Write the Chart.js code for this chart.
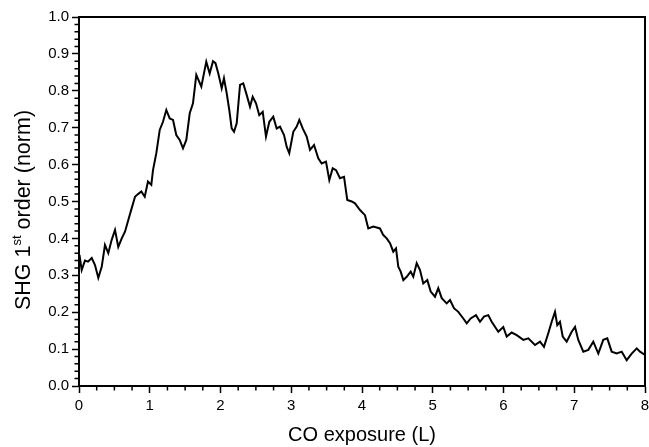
<!DOCTYPE html>
<html>
<head>
<meta charset="utf-8">
<script src="https://cdn.jsdelivr.net/npm/chart.js@4"></script>
<style>
  html, body { margin: 0; padding: 0; background: #fff; }
  #wrap { width: 649px; height: 447px; }
</style>
</head>
<body>
<div id="wrap"><canvas id="shg"></canvas></div>
<script>
// CO exposure (Langmuir) and normalised SHG signal
const exposure = [
  0.007, 0.038, 0.085, 0.127, 0.18, 0.226, 0.273, 0.321, 0.367, 0.414,
  0.462, 0.509, 0.555, 0.604, 0.65, 0.697, 0.745, 0.792, 0.834, 0.881,
  0.929, 0.975, 1.022, 1.046, 1.093, 1.141, 1.187, 1.234, 1.282, 1.329,
  1.375, 1.423, 1.47, 1.517, 1.565, 1.611, 1.658, 1.729, 1.799, 1.847,
  1.894, 1.929, 1.969, 2.017, 2.049, 2.088, 2.124, 2.158, 2.191, 2.229,
  2.276, 2.322, 2.37, 2.417, 2.455, 2.502, 2.548, 2.597, 2.643, 2.69,
  2.746, 2.794, 2.841, 2.898, 2.936, 2.972, 3.029, 3.077, 3.114, 3.162,
  3.218, 3.265, 3.322, 3.382, 3.43, 3.491, 3.538, 3.586, 3.633, 3.689,
  3.746, 3.792, 3.854, 3.901, 3.972, 4.042, 4.089, 4.16, 4.254, 4.301,
  4.349, 4.396, 4.442, 4.481, 4.513, 4.547, 4.584, 4.632, 4.688, 4.725,
  4.773, 4.82, 4.866, 4.923, 4.971, 5.032, 5.078, 5.127, 5.197, 5.244,
  5.3, 5.361, 5.432, 5.48, 5.536, 5.611, 5.668, 5.724, 5.785, 5.833,
  5.926, 5.997, 6.045, 6.116, 6.187, 6.28, 6.351, 6.445, 6.516, 6.572,
  6.633, 6.681, 6.728, 6.76, 6.798, 6.837, 6.893, 6.964, 7.011, 7.057,
  7.128, 7.199, 7.269, 7.34, 7.41, 7.467, 7.529, 7.6, 7.671, 7.741,
  7.812, 7.883, 7.929, 8.0
];
const shgSignal = [
  0.355, 0.314, 0.34, 0.337, 0.347, 0.328, 0.293, 0.323, 0.382, 0.36,
  0.396, 0.423, 0.377, 0.4, 0.418, 0.45, 0.482, 0.513, 0.52, 0.527,
  0.513, 0.554, 0.545, 0.585, 0.631, 0.694, 0.716, 0.748, 0.725, 0.721,
  0.68, 0.667, 0.644, 0.667, 0.739, 0.766, 0.843, 0.811, 0.879, 0.847,
  0.88, 0.875, 0.847, 0.807, 0.834, 0.793, 0.748, 0.698, 0.689, 0.712,
  0.816, 0.82, 0.789, 0.757, 0.784, 0.766, 0.734, 0.743, 0.676, 0.716,
  0.73, 0.698, 0.703, 0.68, 0.648, 0.631, 0.689, 0.703, 0.721, 0.698,
  0.676, 0.64, 0.653, 0.617, 0.603, 0.608, 0.558, 0.59, 0.585, 0.563,
  0.567, 0.504, 0.5, 0.495, 0.477, 0.463, 0.427, 0.432, 0.427, 0.409,
  0.4, 0.387, 0.364, 0.373, 0.323, 0.31, 0.287, 0.296, 0.31, 0.296,
  0.333, 0.314, 0.278, 0.287, 0.256, 0.242, 0.265, 0.238, 0.224, 0.233,
  0.211, 0.201, 0.183, 0.17, 0.183, 0.192, 0.174, 0.188, 0.192, 0.174,
  0.147, 0.16, 0.134, 0.145, 0.138, 0.125, 0.129, 0.111, 0.12, 0.106,
  0.143, 0.174, 0.201, 0.165, 0.174, 0.134, 0.12, 0.147, 0.16, 0.125,
  0.093, 0.098, 0.12, 0.088, 0.125, 0.129, 0.093, 0.088, 0.093, 0.07,
  0.088, 0.102, 0.093, 0.084
];
const xMajorStep = 1, xMinorStep = 0.25;
const yMajorStep = 0.1, yMinorStep = 0.02;

const FONT = "'Liberation Sans', Arial, sans-serif";

// frame on all four sides + short minor ticks pointing outwards
const frameAndMinorTicks = {
  id: "frameAndMinorTicks",
  afterDraw(chart) {
    const { ctx, chartArea: a, scales } = chart;
    const xs = scales.x, ys = scales.y;
    ctx.save();
    ctx.strokeStyle = "#000";
    ctx.lineWidth = 1.5;
    ctx.beginPath();
    for (let i = 0; i * xMinorStep <= xs.max - xs.min + 1e-9; i++) {
      if (i % Math.round(xMajorStep / xMinorStep) === 0) continue;
      const px = xs.getPixelForValue(xs.min + i * xMinorStep);
      ctx.moveTo(px, a.bottom);
      ctx.lineTo(px, a.bottom + 4.5);
    }
    for (let i = 0; i * yMinorStep <= ys.max - ys.min + 1e-9; i++) {
      if (i % Math.round(yMajorStep / yMinorStep) === 0) continue;
      const py = ys.getPixelForValue(ys.min + i * yMinorStep);
      ctx.moveTo(a.left, py);
      ctx.lineTo(a.left - 4.5, py);
    }
    ctx.stroke();
    ctx.lineWidth = 2;
    ctx.strokeRect(a.left, a.top, a.right - a.left, a.bottom - a.top);
    ctx.restore();
  }
};

// y axis title with a superscript "st"
const yTitle = {
  id: "yTitle",
  afterDraw(chart) {
    const { ctx } = chart;
    const parts = [
      { t: "SHG 1", size: 21.5, rise: 0 },
      { t: "st", size: 13, rise: 9 },
      { t: " order (norm)", size: 21.5, rise: 0 }
    ];
    ctx.save();
    let total = 0;
    parts.forEach(p => {
      ctx.font = p.size + "px " + FONT;
      p.w = ctx.measureText(p.t).width;
      total += p.w;
    });
    ctx.translate(30, 210);
    ctx.rotate(-Math.PI / 2);
    ctx.fillStyle = "#000";
    ctx.textBaseline = "alphabetic";
    let x = -total / 2;
    parts.forEach(p => {
      ctx.font = p.size + "px " + FONT;
      ctx.fillText(p.t, x, -p.rise);
      x += p.w;
    });
    ctx.restore();
  }
};

new Chart(document.getElementById("shg"), {
  type: "line",
  data: {
    datasets: [{
      data: exposure.map((x, i) => ({ x: x, y: shgSignal[i] })),
      borderColor: "#000",
      borderWidth: 2,
      pointRadius: 0,
      tension: 0,
      fill: false
    }]
  },
  options: {
    responsive: true,
    maintainAspectRatio: false,
    animation: false,
    layout: { padding: { top: 17, right: 4, left: 0, bottom: 0 } },
    plugins: { legend: { display: false }, tooltip: { enabled: false } },
    scales: {
      x: {
        type: "linear",
        min: 0,
        max: 8,
        border: { display: true, color: "#000", width: 2 },
        grid: { drawOnChartArea: false, tickLength: 7, tickColor: "#000", tickWidth: 1.5 },
        ticks: { stepSize: xMajorStep, color: "#000", padding: 4, maxRotation: 0,
                 font: { family: FONT, size: 15 } },
        title: { display: true, text: "CO exposure (L)", color: "#000",
                 font: { family: FONT, size: 20 }, padding: { top: 4, bottom: 0 } },
        afterFit(scale) { scale.height = 61; scale.paddingLeft = 0; scale.paddingRight = 0; }
      },
      y: {
        min: 0,
        max: 1,
        border: { display: true, color: "#000", width: 2 },
        grid: { drawOnChartArea: false, tickLength: 7, tickColor: "#000", tickWidth: 1.5 },
        ticks: { stepSize: yMajorStep, color: "#000", padding: 3,
                 font: { family: FONT, size: 15 },
                 callback: v => v.toFixed(1) },
        afterFit(scale) { scale.width = 79; scale.paddingTop = 0; scale.paddingBottom = 0; }
      }
    }
  },
  plugins: [frameAndMinorTicks, yTitle]
});
</script>
</body>
</html>
